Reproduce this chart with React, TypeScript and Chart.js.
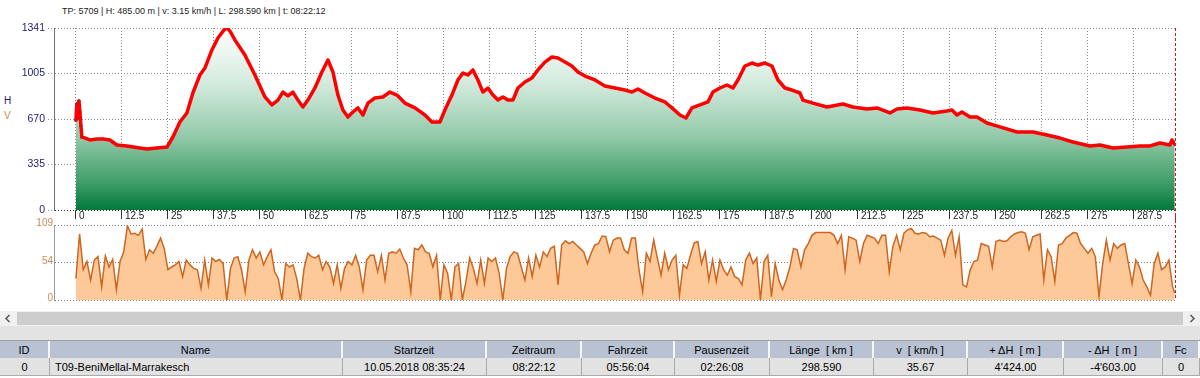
import React, { useEffect, useRef } from 'react';
import { Chart, registerables } from 'chart.js';

Chart.register(...registerables);

const FONT = '"Liberation Sans", Arial, sans-serif';

// ---- axes ----
const X_MIN = -5.95;
const X_MAX = 298.65;
const X_TICKS = [0, 12.5, 25, 37.5, 50, 62.5, 75, 87.5, 100, 112.5, 125, 137.5, 150, 162.5, 175, 187.5, 200, 212.5, 225, 237.5, 250, 262.5, 275, 287.5];
const ELEV_TICKS = [0, 335, 670, 1005, 1341];
const SPEED_TICKS = [0, 54, 109];
const TRACK_END_KM = 298.59;

// ---- elevation profile (km, m) ----
const ELEV_KM = [0, 0.27, 0.54, 0.82, 1.09, 1.36, 1.63, 3.8, 5.71, 7.34, 9.24, 11.14, 13.86, 17.39, 19.29, 22.01, 24.73, 26.36, 28.26, 30.16, 31.79, 33.7, 35.05, 36.96, 38.59, 40.22, 41.03, 41.85, 43.21, 45.92, 48.64, 51.36, 53.26, 54.89, 56.25, 57.61, 58.97, 60.33, 61.68, 63.04, 64.95, 66.85, 68.48, 69.84, 71.2, 72.55, 73.91, 75.27, 76.63, 77.99, 79.35, 81.25, 83.42, 85.33, 87.23, 89.4, 92.12, 94.84, 96.74, 98.91, 100.27, 102.17, 103.8, 105.16, 106.52, 107.88, 109.24, 110.6, 111.96, 113.32, 114.67, 116.03, 117.39, 118.75, 120.11, 122.01, 123.91, 125.54, 127.45, 129.35, 130.98, 132.88, 134.78, 136.41, 138.32, 141.03, 143.75, 146.47, 149.18, 151.09, 152.72, 154.62, 157.34, 160.05, 161.96, 164.13, 165.76, 167.39, 169.57, 171.74, 173.1, 175.0, 176.9, 178.53, 179.89, 181.79, 183.7, 185.33, 187.23, 189.13, 190.76, 192.66, 194.57, 196.74, 197.55, 200.27, 204.08, 208.42, 211.14, 214.95, 217.66, 221.2, 223.1, 225.82, 229.35, 232.88, 236.68, 238.04, 239.4, 240.76, 242.93, 244.84, 247.55, 251.09, 255.71, 260.05, 263.86, 267.39, 270.92, 275.54, 278.26, 281.79, 285.6, 289.13, 291.85, 294.57, 297.28, 297.83, 298.59];
const ELEV_M = [663, 781, 678, 803, 722, 619, 538, 516, 523, 523, 516, 479, 472, 457, 449, 457, 464, 538, 648, 715, 862, 995, 1046, 1179, 1267, 1326, 1341, 1319, 1253, 1142, 995, 833, 774, 810, 869, 840, 869, 810, 759, 810, 899, 1017, 1105, 1017, 847, 737, 685, 722, 752, 700, 788, 825, 833, 869, 847, 788, 752, 700, 648, 648, 737, 847, 958, 1009, 995, 1032, 958, 869, 899, 847, 810, 833, 810, 810, 899, 943, 973, 1032, 1090, 1127, 1120, 1090, 1061, 1017, 987, 958, 914, 899, 884, 869, 892, 862, 825, 796, 752, 700, 678, 752, 774, 796, 869, 899, 921, 899, 958, 1061, 1083, 1068, 1083, 1061, 958, 899, 884, 862, 810, 788, 759, 781, 759, 744, 752, 715, 744, 752, 737, 715, 729, 737, 700, 722, 685, 685, 641, 612, 575, 575, 553, 530, 501, 472, 479, 457, 464, 472, 472, 494, 479, 516, 485];

// ---- speed (km/h), one sample per km, plus final point ----
const SPEED_STEP_KM = 1;
const SPEED_KMH = [
  31, 96, 44, 56, 29, 58, 63, 19, 64, 48,
  59, 15, 56, 70, 108, 96, 97, 94, 103, 59,
  73, 68, 78, 90, 75, 44, 48, 51, 56, 34,
  58, 51, 46, 44, 17, 58, 22, 61, 56, 59,
  53, 0, 46, 61, 63, 44, 12, 58, 73, 61,
  70, 51, 63, 73, 41, 31, 0, 53, 48, 51,
  31, 0, 46, 68, 63, 61, 65, 44, 56, 48,
  24, 51, 17, 46, 56, 51, 65, 48, 15, 58,
  65, 65, 41, 65, 29, 68, 70, 68, 74, 61,
  51, 12, 75, 73, 80, 70, 68, 48, 65, 0,
  51, 39, 0, 48, 53, 0, 27, 61, 46, 24,
  58, 24, 61, 56, 61, 39, 0, 46, 63, 70,
  68, 48, 29, 61, 34, 65, 48, 70, 63, 75,
  78, 22, 80, 86, 82, 85, 80, 75, 70, 53,
  68, 80, 82, 93, 92, 70, 87, 90, 90, 73,
  68, 90, 90, 44, 12, 68, 56, 87, 61, 36,
  68, 44, 58, 65, 7, 51, 46, 65, 83, 85,
  53, 70, 29, 58, 27, 58, 44, 36, 48, 34,
  31, 22, 58, 68, 53, 61, 0, 56, 65, 5,
  53, 29, 15, 29, 48, 75, 73, 48, 73, 82,
  94, 98, 98, 98, 98, 98, 94, 82, 94, 44,
  92, 90, 87, 56, 82, 94, 92, 90, 82, 94,
  94, 41, 78, 94, 73, 97, 102, 104, 97, 96,
  98, 97, 92, 93, 90, 87, 65, 90, 101, 65,
  92, 22, 19, 44, 56, 58, 82, 80, 78, 48,
  85, 87, 85, 86, 92, 96, 98, 99, 97, 73,
  92, 94, 96, 29, 73, 63, 27, 80, 82, 90,
  94, 98, 97, 82, 75, 68, 75, 63, 5, 53,
  87, 58, 82, 75, 80, 82, 53, 24, 58, 48,
  29, 19, 7, 53, 68, 44, 48, 58, 19,
];
const SPEED_END_KMH = 10;

// ---- header & table texts ----
const INFO_TEXT = 'TP: 5709 | H: 485.00 m | v: 3.15 km/h | L: 298.590 km | t: 08:22:12';
const TABLE_COLS = ['ID', 'Name', 'Startzeit', 'Zeitraum', 'Fahrzeit', 'Pausenzeit', 'Länge  [ km ]', 'v  [ km/h ]', '+ ΔH  [ m ]', '- ΔH  [ m ]', 'Fc'];
const TABLE_ROW = ['0', 'T09-BeniMellal-Marrakesch', '10.05.2018 08:35:24', '08:22:12', '05:56:04', '02:26:08', '298.590', '35.67', "4'424.00", "-4'603.00", '0'];
const COL_EDGES = [0, 50, 343, 487, 582, 675, 770, 874, 968, 1064, 1163, 1200];

const cursorPlugin = (fromTop: boolean) => ({
  id: 'cursorLine' + (fromTop ? 'Top' : 'Bottom'),
  afterDatasetsDraw(chart: any) {
    const xs = chart.scales.x;
    const area = chart.chartArea;
    const x = Math.round(xs.getPixelForValue(TRACK_END_KM)) + 0.5;
    const ctx = chart.ctx;
    ctx.save();
    ctx.strokeStyle = '#c81e1e';
    ctx.lineWidth = 1;
    ctx.setLineDash([3, 2]);
    ctx.beginPath();
    if (fromTop) {
      ctx.moveTo(x, area.top);
      ctx.lineTo(x, chart.height);
    } else {
      ctx.moveTo(x, 0);
      ctx.lineTo(x, area.bottom);
    }
    ctx.stroke();
    ctx.restore();
  },
});

export default function App() {
  const topRef = useRef<HTMLCanvasElement>(null);
  const botRef = useRef<HTMLCanvasElement>(null);

  useEffect(() => {
    Chart.defaults.font.family = FONT;
    const elevData = ELEV_KM.map((x, i) => ({ x, y: ELEV_M[i] }));
    const speedData = SPEED_KMH.map((v, i) => ({ x: i * SPEED_STEP_KM, y: v }));
    speedData.push({ x: TRACK_END_KM, y: SPEED_END_KMH });

    const top = new Chart(topRef.current as HTMLCanvasElement, {
      type: 'line',
      data: {
        datasets: [
          {
            data: elevData,
            borderColor: '#ff0000',
            borderWidth: 3.5,
            borderJoinStyle: 'round',
            borderCapStyle: 'round',
            tension: 0,
            pointRadius: (c: any) => (c.dataIndex < 7 ? 1.8 : 0),
            pointBackgroundColor: '#d01010',
            pointBorderWidth: 0,
            fill: 'origin',
            backgroundColor: (c: any) => {
              const area = c.chart.chartArea;
              if (!area) return 'rgba(0,0,0,0)';
              const g = c.chart.ctx.createLinearGradient(0, area.top, 0, area.bottom);
              g.addColorStop(0, '#ffffff');
              g.addColorStop(0.3, '#d4ebde');
              g.addColorStop(0.6, '#92c9a9');
              g.addColorStop(0.85, '#3f9d68');
              g.addColorStop(1, '#00793a');
              return g;
            },
          } as any,
        ],
      },
      options: {
        responsive: false,
        maintainAspectRatio: false,
        animation: false,
        events: [],
        layout: { padding: { left: 0, right: 25, top: 28, bottom: 0 } },
        plugins: { legend: { display: false }, tooltip: { enabled: false } },
        scales: {
          x: {
            type: 'linear',
            min: X_MIN,
            max: X_MAX,
            afterBuildTicks: (s: any) => {
              s.ticks = X_TICKS.map((v) => ({ value: v }));
            },
            afterFit: (s: any) => {
              s.height = 12;
            },
            ticks: {
              align: 'start',
              labelOffset: 3,
              padding: -9,
              autoSkip: false,
              maxRotation: 0,
              minRotation: 0,
              color: '#222222',
              font: { size: 10, family: FONT },
              callback: (v: any) => String(v),
            },
            grid: {
              color: '#8c8c8c',
              lineWidth: 1,
              drawTicks: true,
              tickLength: 9,
              tickColor: '#333333',
              tickWidth: 1,
            },
            border: { display: false, dash: [1, 2] },
          },
          y: {
            type: 'linear',
            min: 0,
            max: 1341,
            afterBuildTicks: (s: any) => {
              s.ticks = ELEV_TICKS.map((v) => ({ value: v }));
            },
            afterFit: (s: any) => {
              s.width = 54;
            },
            ticks: {
              padding: 3,
              color: '#1c1c78',
              font: { size: 10.5, family: FONT },
              callback: (v: any) => String(v),
            },
            grid: {
              color: (c: any) => (c.tick && c.tick.value === 0 ? '#333333' : '#8c8c8c'),
              lineWidth: 1,
              drawTicks: true,
              tickLength: 6,
              tickColor: '#8c8c8c',
              tickBorderDash: [1, 2],
            },
            border: { display: true, color: '#6e6e6e', width: 1, dash: [1, 2] },
          },
        },
      } as any,
      plugins: [cursorPlugin(true)],
    });

    const bot = new Chart(botRef.current as HTMLCanvasElement, {
      type: 'line',
      data: {
        datasets: [
          {
            data: speedData,
            borderColor: '#cc6620',
            borderWidth: 1.5,
            tension: 0,
            pointRadius: 0,
            fill: 'origin',
            backgroundColor: '#fdc998',
          } as any,
        ],
      },
      options: {
        responsive: false,
        maintainAspectRatio: false,
        animation: false,
        events: [],
        layout: { padding: { left: 0, right: 25, top: 10, bottom: 10 } },
        plugins: { legend: { display: false }, tooltip: { enabled: false } },
        scales: {
          x: { type: 'linear', min: X_MIN, max: X_MAX, display: false },
          y: {
            type: 'linear',
            min: 0,
            max: 109,
            afterBuildTicks: (s: any) => {
              s.ticks = SPEED_TICKS.map((v) => ({ value: v }));
            },
            afterFit: (s: any) => {
              s.width = 54;
            },
            ticks: {
              padding: 1,
              labelOffset: -2,
              color: '#c98a52',
              font: { size: 10, family: FONT },
              callback: (v: any) => String(v),
            },
            grid: { color: '#7a7a7a', lineWidth: 1, drawTicks: false },
            border: { display: true, color: '#9a9a9a', width: 1, dash: [1, 2] },
          },
        },
      } as any,
      plugins: [cursorPlugin(false)],
    });

    return () => {
      top.destroy();
      bot.destroy();
    };
  }, []);

  const cell = (i: number, text: string, left: boolean, header: boolean) => (
    <div
      key={(header ? 'h' : 'r') + i}
      style={{
        position: 'absolute',
        left: COL_EDGES[i],
        width: COL_EDGES[i + 1] - COL_EDGES[i],
        top: 0,
        height: '100%',
        boxSizing: 'border-box',
        borderRight: header ? '2px solid #f4f6fa' : '1px solid #a9a9a9',
        display: 'flex',
        alignItems: 'center',
        justifyContent: left ? 'flex-start' : 'center',
        paddingLeft: left ? 5 : 0,
        whiteSpace: 'pre',
        fontSize: 11,
        color: '#000',
      }}
    >
      {text}
    </div>
  );

  return (
    <div
      style={{
        position: 'absolute',
        left: 0,
        top: 0,
        width: 1200,
        height: 378,
        background: '#ffffff',
        fontFamily: FONT,
        overflow: 'hidden',
      }}
    >
      <div style={{ position: 'absolute', left: 62, top: 6, fontSize: 9, color: '#222', whiteSpace: 'pre' }}>{INFO_TEXT}</div>
      <div style={{ position: 'absolute', left: 4, top: 95, fontSize: 10, color: '#1c1c78' }}>H</div>
      <div style={{ position: 'absolute', left: 4, top: 110, fontSize: 10, color: '#d08a50' }}>V</div>
      <canvas ref={topRef} width={1200} height={222} style={{ position: 'absolute', left: 0, top: 0, width: 1200, height: 222 }} />
      <canvas ref={botRef} width={1200} height={95} style={{ position: 'absolute', left: 0, top: 215, width: 1200, height: 95 }} />

      {/* scrollbar */}
      <div style={{ position: 'absolute', left: 0, top: 311, width: 1200, height: 15, background: '#f0f0f0' }} />
      <div style={{ position: 'absolute', left: 17, top: 312, width: 1166, height: 13, background: '#cdcdcd' }} />
      <svg style={{ position: 'absolute', left: 3, top: 313 }} width={10} height={11}>
        <polyline points="6.5,2 3,5.5 6.5,9" fill="none" stroke="#555" strokeWidth={1.5} />
      </svg>
      <svg style={{ position: 'absolute', left: 1187, top: 313 }} width={10} height={11}>
        <polyline points="3.5,2 7,5.5 3.5,9" fill="none" stroke="#555" strokeWidth={1.5} />
      </svg>
      <div style={{ position: 'absolute', left: 0, top: 326, width: 1200, height: 14, background: '#e3e3e3' }} />

      {/* table header */}
      <div style={{ position: 'absolute', left: 0, top: 340, width: 1200, height: 18, background: '#b8c2d3', borderTop: '1px solid #a0a0a0', boxSizing: 'border-box' }}>
        {TABLE_COLS.map((t, i) => cell(i, t, false, true))}
      </div>
      {/* table row */}
      <div style={{ position: 'absolute', left: 0, top: 358, width: 1200, height: 18, background: '#e2e2e2', borderBottom: '1px solid #a9a9a9', boxSizing: 'border-box' }}>
        {TABLE_ROW.map((t, i) => cell(i, t, i === 1, false))}
      </div>
      <div style={{ position: 'absolute', left: 0, top: 376, width: 1200, height: 2, background: '#ffffff' }} />
    </div>
  );
}
